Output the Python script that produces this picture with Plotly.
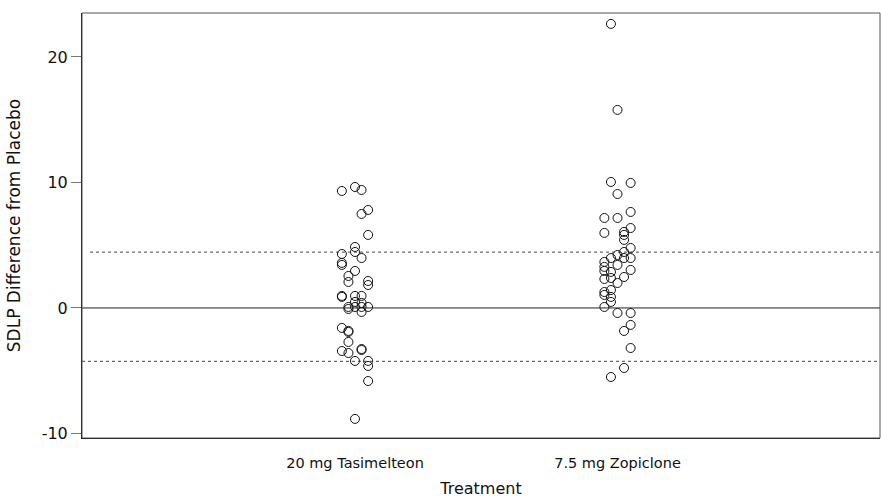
import plotly.graph_objects as go

categories = ["20 mg Tasimelteon", "7.5 mg Zopiclone"]

tas_values = [9.32, 9.64, 9.40, 7.81, 7.49, 5.82, 4.30, 4.86, 4.46, 3.98,
              3.59, 3.43, 2.95, 2.55, 2.07, 2.15, 1.83, 0.96, 0.88, 0.96,
              0.96, 0.48, 0.40, 0.08, -0.08, 0.08, 0.08, 0.08, -0.32, -1.59,
              -1.83, -1.91, -2.71, -3.43, -3.59, -3.27, -3.35, -4.22, -4.22, -4.62,
              -5.82, -8.84]
tas_jitter = [-0.05, 0.0, 0.025, 0.05, 0.025, 0.05, -0.05, 0.0, 0.0, 0.025,
              -0.05, -0.05, 0.0, -0.025, -0.025, 0.05, 0.05, -0.05, -0.05, 0.0,
              0.025, 0.0, 0.025, -0.025, -0.025, 0.0, 0.025, 0.05, 0.025, -0.05,
              -0.025, -0.025, -0.025, -0.05, -0.025, 0.025, 0.025, 0.0, 0.05, 0.05,
              0.05, 0.0]

zop_values = [22.63, 15.78, 10.04, 9.96, 9.08, 7.17, 7.17, 7.65, 5.98, 6.06,
              5.82, 6.37, 5.42, 4.78, 4.46, 4.22, 3.98, 3.98, 3.98, 3.67,
              3.27, 2.95, 3.43, 3.03, 2.87, 2.31, 2.39, 2.47, 1.99, 1.27,
              1.04, 1.43, 0.88, 0.48, 0.08, -0.40, -0.40, -1.35, -1.83, -3.19,
              -4.78, -5.50]
zop_jitter = [-0.025, 0.0, -0.025, 0.05, 0.0, -0.05, 0.0, 0.05, -0.05, 0.025,
              0.025, 0.05, 0.025, 0.05, 0.025, 0.0, -0.025, 0.025, 0.05, -0.05,
              -0.05, -0.05, 0.0, 0.05, -0.025, -0.05, -0.025, 0.025, 0.0, -0.05,
              -0.05, -0.025, -0.025, -0.025, -0.05, 0.0, 0.05, 0.05, 0.025, 0.05,
              0.025, -0.025]

ref_zero = 0.0
ref_upper = 4.45
ref_lower = -4.25

y_ticks = [-10, 0, 10, 20]

FONT = "DejaVu Sans"

fig = go.Figure()
for i, (vals, jit) in enumerate([(tas_values, tas_jitter), (zop_values, zop_jitter)]):
    fig.add_trace(go.Scatter(
        x=[i + j for j in jit], y=vals, mode="markers",
        marker=dict(symbol="circle-open", size=9, color="#111",
                    line=dict(width=1, color="#111")),
        showlegend=False, hoverinfo="y"))

fig.add_shape(type="line", xref="paper", yref="y", x0=0, x1=1, y0=ref_zero, y1=ref_zero,
              line=dict(color="#222", width=1))
fig.add_shape(type="line", xref="paper", yref="y", x0=0.01, x1=1, y0=ref_upper, y1=ref_upper,
              line=dict(color="#444", width=1, dash="dot"))
fig.add_shape(type="line", xref="paper", yref="y", x0=0, x1=1, y0=ref_lower, y1=ref_lower,
              line=dict(color="#444", width=1, dash="dot"))
fig.add_shape(type="rect", xref="paper", yref="paper", x0=0, x1=1, y0=0, y1=1,
              line=dict(color="#555", width=1))

fig.update_layout(
    width=881, height=498,
    margin=dict(l=82, r=1, t=13, b=60),
    paper_bgcolor="white", plot_bgcolor="white",
    font=dict(family=FONT, size=14, color="#111"),
    xaxis=dict(range=[-1.04, 2.0], tickmode="array", tickvals=[0, 1], ticktext=categories,
               showgrid=False, zeroline=False, showline=True, linecolor="#111", linewidth=1,
               ticks="", tickfont=dict(size=14.5), ticklabelstandoff=12,
               title=dict(text="Treatment", font=dict(size=16), standoff=13)),
    yaxis=dict(range=[-10.36, 23.5], tickmode="array", tickvals=y_ticks,
               ticktext=[str(t) for t in y_ticks],
               showgrid=False, zeroline=False, showline=True, linecolor="#111", linewidth=1,
               ticks="outside", ticklen=10, tickcolor="#777", tickwidth=1,
               tickfont=dict(size=16),
               title=dict(text="SDLP Difference from Placebo", font=dict(size=17), standoff=16)),
)

fig.write_html("out.html", config={"displayModeBar": False},
               post_script="document.body.style.margin='0';document.body.style.overflow='hidden';")
